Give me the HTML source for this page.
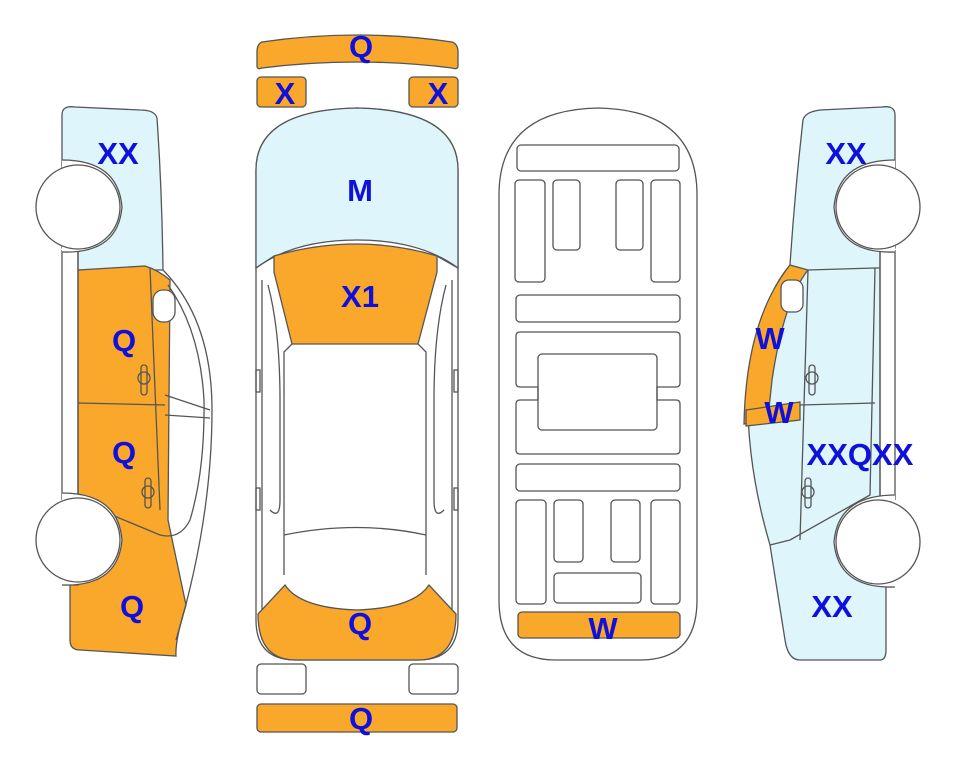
<!DOCTYPE html>
<html><head><meta charset="utf-8"><style>
html,body{margin:0;padding:0;background:#fff;width:963px;height:768px;overflow:hidden}
svg{display:block}
text{font-family:"Liberation Sans",sans-serif;font-weight:bold;font-size:31px;fill:#1010DD;text-anchor:middle}
</style></head><body>
<svg width="963" height="768" viewBox="0 0 963 768" xmlns="http://www.w3.org/2000/svg">
<g stroke="#555" stroke-width="1.3" fill="none">
<path d="M262,42 Q357,28 452,42 Q458,44 458,52 L458,66 Q458,70 452,68 Q357,56 262,68 Q257,70 257,66 L257,52 Q257,44 262,42 Z" fill="#F9A82C"/>
<rect x="257" y="77" width="49" height="30" rx="4" fill="#F9A82C"/>
<rect x="409" y="77" width="49" height="30" rx="4" fill="#F9A82C"/>
<path d="M256,170 Q256,110 357,108 Q458,110 458,170 L458,620 Q458,660 418,660 L296,660 Q256,660 256,620 Z" fill="#fff"/>
<path d="M256,170 Q256,110 357,108 Q458,110 458,170 L458,268 Q420,240 357,240 Q294,240 256,268 Z" fill="#DDF5FB"/>
<path d="M274,256 Q357,232 437,256 L437,272 L418,344 L292,344 L274,272 Z" fill="#F9A82C"/>
<path d="M256,268 L274,256 M458,268 L437,256"/>
<path d="M292,344 L284,352 L284,575 M418,344 L426,352 L426,575"/>
<path d="M284,535 Q357,520 426,535"/>
<path d="M262,280 L262,640 M452,280 L452,640"/>
<path d="M268,285 Q280,330 280,400 L280,500 Q280,520 270,510 M446,285 Q434,330 434,400 L434,500 Q434,520 444,510"/>
<rect x="256" y="370" width="4" height="22"/><rect x="454" y="370" width="4" height="22"/>
<rect x="256" y="488" width="4" height="22"/><rect x="454" y="488" width="4" height="22"/>
<path d="M285,585 Q300,608 357,610 Q414,608 429,585 L456,614 Q456,660 418,660 L296,660 Q258,660 258,614 Z" fill="#F9A82C"/>
<rect x="257" y="664" width="49" height="30" rx="4" fill="#fff"/>
<rect x="409" y="664" width="49" height="30" rx="4" fill="#fff"/>
<rect x="257" y="704" width="200" height="28" rx="4" fill="#F9A82C"/>
<path d="M499,195 Q499,110 598,108 Q697,110 697,195 L697,600 Q697,660 640,660 L556,660 Q499,660 499,600 Z" fill="#fff"/>
<rect x="517" y="145" width="162" height="26" rx="4"/>
<rect x="515" y="180" width="30" height="102" rx="4"/>
<rect x="553" y="180" width="27" height="70" rx="4"/>
<rect x="616" y="180" width="27" height="70" rx="4"/>
<rect x="651" y="180" width="29" height="102" rx="4"/>
<rect x="516" y="295" width="164" height="27" rx="4"/>
<path d="M520,332 L676,332 Q680,332 680,336 L680,383 Q680,387 676,387 L657,387 L657,400 L676,400 Q680,400 680,404 L680,450 Q680,454 676,454 L520,454 Q516,454 516,450 L516,404 Q516,400 520,400 L538,400 L538,387 L520,387 Q516,387 516,383 L516,336 Q516,332 520,332 Z"/>
<rect x="538" y="354" width="119" height="76" rx="4"/>
<rect x="516" y="464" width="164" height="27" rx="4"/>
<rect x="516" y="500" width="30" height="104" rx="4"/>
<rect x="554" y="500" width="29" height="62" rx="4"/>
<rect x="611" y="500" width="29" height="62" rx="4"/>
<rect x="651" y="500" width="29" height="104" rx="4"/>
<rect x="554" y="573" width="87" height="30" rx="4"/>
<rect x="518" y="612" width="162" height="26" rx="4" fill="#F9A82C"/>
<!-- left car -->
<path d="M62,115 Q62,105 75,107 L140,110 Q155,110 157,118 Q162,190 163,270 L78,270 L78,248 L62,248 Z" fill="#DDF5FB"/>
<path d="M78,270 L145,266 Q158,270 170,280 L168,520 L186,605 Q175,640 176,656 L80,650 Q70,650 70,640 L70,585 L78,585 L78,505 L78,270 Z" fill="#F9A82C"/>
<path d="M163,270 Q212,320 212,410 Q212,520 176,640"/>
<path d="M168,285 Q200,330 204,400 Q205,470 190,520 Q180,540 160,535 L88,505"/>
<path d="M150,268 L160,510 M78,403 L165,405 M165,395 L210,410 M165,415 L210,418"/>
<path d="M62,250 L62,500 M78,250 L78,500"/>
<rect x="153" y="290" width="22" height="32" rx="10" fill="#fff"/>
<rect x="141" y="365" width="6" height="30" rx="3"/><circle cx="144" cy="378" r="6"/>
<rect x="145" y="478" width="6" height="30" rx="3"/><circle cx="148" cy="492" r="6"/>
<path d="M62,160 Q118,160 122,207 Q118,254 62,252" fill="#fff"/>
<path d="M62,493 Q118,493 122,540 Q118,587 62,585" fill="#fff"/>
<circle cx="78" cy="207" r="42" fill="#fff"/><circle cx="78" cy="540" r="42" fill="#fff"/>
<!-- right car -->
<path d="M895,115 Q895,105 882,107 L820,110 Q805,112 803,120 Q795,190 790,265 Q760,300 748,380 Q745,460 770,545 L785,640 Q788,660 800,660 L880,660 Q886,660 886,650 L886,585 L880,585 L880,248 L895,248 Z" fill="#DDF5FB"/>
<path d="M790,265 L808,270 Q784,300 772,380 L768,418 L744,424 Q746,320 790,265 Z" fill="#F9A82C"/>
<path d="M746,410 L800,402 L800,420 L746,426 Z" fill="#F9A82C"/>
<path d="M808,270 L875,268 L880,268 M875,268 L870,495 L790,540 L770,545 M808,270 L800,540"/>
<path d="M800,405 L875,403"/>
<path d="M895,250 L895,500 M880,250 L880,500"/>
<rect x="781" y="280" width="22" height="32" rx="8" fill="#fff"/>
<rect x="809" y="365" width="6" height="30" rx="3"/><circle cx="812" cy="378" r="6"/>
<rect x="805" y="478" width="6" height="30" rx="3"/><circle cx="808" cy="492" r="6"/>
<path d="M895,160 Q838,160 834,207 Q838,254 895,252" fill="#fff"/>
<path d="M895,495 Q838,495 834,542 Q838,589 895,587" fill="#fff"/>
<circle cx="878" cy="207" r="42" fill="#fff"/><circle cx="878" cy="542" r="42" fill="#fff"/>
</g>
<text x="361" y="57">Q</text>
<text x="285" y="104">X</text>
<text x="438" y="104">X</text>
<text x="360" y="201">M</text>
<text x="360" y="307">X1</text>
<text x="360" y="634">Q</text>
<text x="361" y="729">Q</text>
<text x="603" y="639">W</text>
<text x="118" y="164">XX</text>
<text x="124" y="351">Q</text>
<text x="124" y="463">Q</text>
<text x="132" y="617">Q</text>
<text x="846" y="164">XX</text>
<text x="770" y="349">W</text>
<text x="779" y="423">W</text>
<text x="860" y="465">XXQXX</text>
<text x="832" y="617">XX</text>
</svg>
</body></html>
